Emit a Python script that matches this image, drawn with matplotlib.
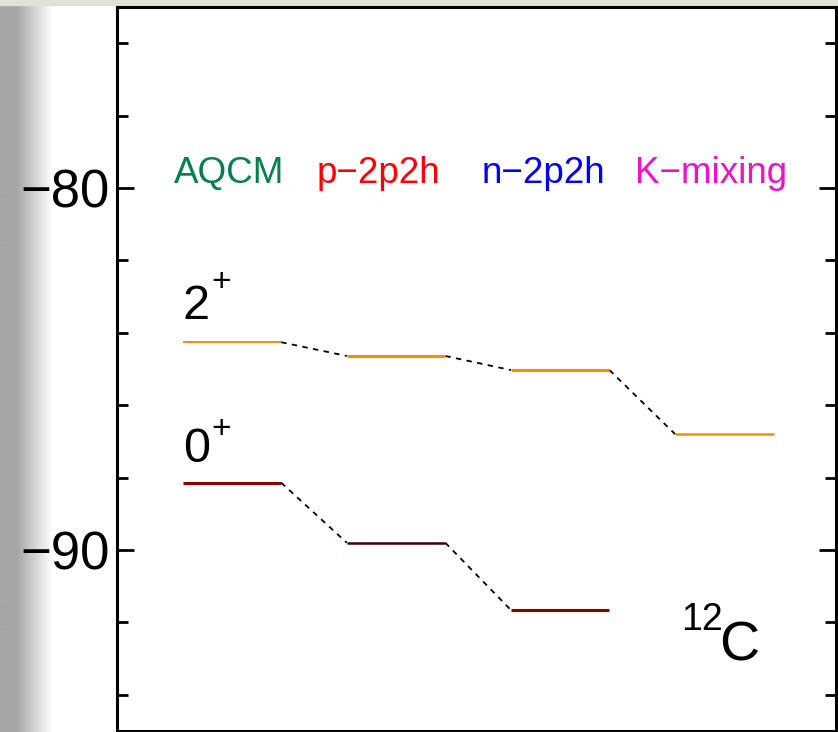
import matplotlib
matplotlib.use("Agg")
import matplotlib.pyplot as plt
import numpy as np
from matplotlib.ticker import MultipleLocator

plt.rcParams["font.family"] = ["Liberation Sans", "DejaVu Sans"]

# data
methods = ["AQCM", "p\u22122p2h", "n\u22122p2h", "K\u2212mixing"]
method_colors = ["#00804a", "#ff0000", "#0000ff", "#f010c8"]
label_x = [-0.02, 0.89, 1.90, 2.92]

e_2plus = [-84.26, -84.64, -85.03, -86.80]
e_0plus = [-88.14, -89.80, -91.66]
c_2plus = ["#ff8c00", "#ff8c00", "#ff8c00", "#ff8c00"]
c_0plus = ["#8b0000", "#440000", "#8b0000"]
lw_2plus = [1.4, 2.2, 2.2, 1.8]
lw_0plus = [2.2, 1.8, 2.2]

half = 0.30

fig = plt.figure(figsize=(8.38, 7.32), dpi=100)

# screenshot shading at the left and top edge
bg = fig.add_axes([0, 0, 1, 1], zorder=-10)
xs = np.arange(838)
grad = np.ones((2, 838))
grad[:] = np.clip(0.65 + 0.35 * (xs - 16) / 36, 0.65, 1.0)
bg.imshow(grad, cmap="gray", vmin=0, vmax=1, aspect="auto",
          extent=[0, 1, 0, 1])
bg.axhspan(1 - 5 / 732, 1, color="#e2e1d9")
bg.set_xlim(0, 1)
bg.set_ylim(0, 1)
bg.axis("off")

ax = fig.add_axes([117 / 838, 1 / 732, (836 - 117) / 838, (731 - 7) / 732])
ax.set_facecolor("white")


def levels(ax, energies, colors, widths):
    for i, e in enumerate(energies):
        ax.plot([i - half, i + half], [e, e], color=colors[i], lw=widths[i],
                solid_capstyle="butt", zorder=3)
        if i + 1 < len(energies):
            ax.plot([i + half, i + 1 - half], [e, energies[i + 1]], color="black",
                    lw=1.3, ls=(0, (3, 3)), zorder=2)


levels(ax, e_2plus, c_2plus, lw_2plus)
levels(ax, e_0plus, c_0plus, lw_0plus)

for name, col, x in zip(methods, method_colors, label_x):
    ax.text(x, -79.86, name, color=col, fontsize=26.5, ha="center", va="baseline")

# spin-parity labels, superscripts drawn as their own text
ax.text(-0.30, -83.62, "2", fontsize=35, va="baseline")
ax.text(-0.065, -82.62, "+", fontsize=24, ha="center", va="center")
ax.text(-0.30, -87.57, "0", fontsize=35, va="baseline")
ax.text(-0.065, -86.67, "+", fontsize=24, ha="center", va="center")
ax.text(2.735, -92.21, "12", fontsize=27, va="baseline")
ax.text(2.965, -93.04, "C", fontsize=40, va="baseline")

ax.set_xlim(-0.70, 3.68)
ax.set_ylim(-95, -75)
ax.yaxis.set_major_locator(MultipleLocator(10))
ax.yaxis.set_minor_locator(MultipleLocator(2))
ax.set_xticks([])
ax.tick_params(axis="y", which="major", direction="in", length=12, width=2,
               labelsize=38, pad=5, right=True)
ax.tick_params(axis="y", which="minor", direction="in", length=8, width=2,
               right=True)
for s in ax.spines.values():
    s.set_linewidth(2.2)

fig.savefig("out.png", dpi=100)
